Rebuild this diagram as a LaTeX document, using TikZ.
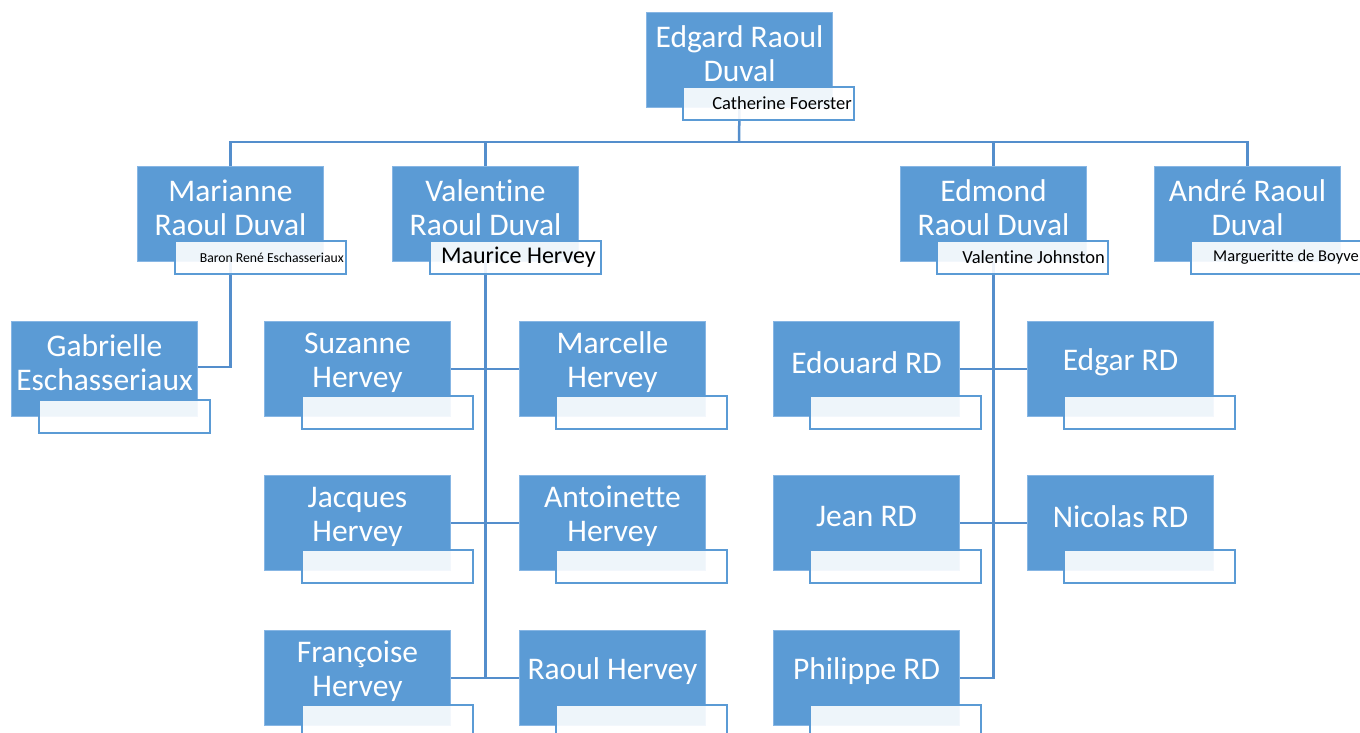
\documentclass[tikz,border=0pt]{standalone}
\usepackage{fontspec}
\setmainfont{Carlito}[Ligatures={NoCommon,NoContextual,NoRare},RawFeature={-liga;-clig;-dlig}]
\usetikzlibrary{backgrounds}
\definecolor{mainblue}{RGB}{91,155,213}
\definecolor{mainedge}{RGB}{135,182,228}
\definecolor{subedge}{RGB}{91,155,213}
\definecolor{linkblue}{RGB}{84,142,204}
\tikzset{
  mainbox/.style={rectangle, draw=mainedge, fill=mainblue, line width=1pt,
    minimum width=186pt, minimum height=95pt, inner sep=0pt, anchor=north west},
  maintext/.style={text=white, align=center, inner sep=0pt,
    font=\fontsize{31.5}{34}\selectfont},
  subbox/.style={rectangle, draw=subedge, line width=2pt, fill=white, fill opacity=0.9,
    minimum width=171pt, minimum height=33pt, inner sep=0pt, anchor=north west},
  subtext/.style={text=black, anchor=east, inner sep=0pt},
  link/.style={draw=linkblue, line width=2.5pt}
}
% name, x, y, text, sub dx, sub dy
\newcommand\pbox[6]{%
  \node[mainbox] (#1) at (#2,#3) {};
  \node[maintext] (#1-t) at ([yshift=6.5pt]#1.center) {#4};
  \node[subbox] (#1-s) at ([xshift=#5pt,yshift=-#6pt]#1.north west) {};
}
\newcommand\psub[4]{%
  \node[subtext, font=\fontsize{#2}{#2}\selectfont] (#1-st) at ([xshift=-#3pt]#1-s.east) {#4};
}
\begin{document}
\begin{tikzpicture}[x=1pt,y=-1pt]
\useasboundingbox (0,0) rectangle (1360,733);
\begin{scope}[on background layer]
  \fill[white] (0,0) rectangle (1360,733);
\end{scope}
% generation 1
\pbox{edg}{646}{12}{Edgard Raoul\\Duval}{36}{74}
\psub{edg}{18.5}{3}{Catherine Foerster}
% generation 2
\pbox{mari}{137}{166}{Marianne\\Raoul Duval}{37}{74}
\psub{mari}{13.7}{3}{Baron René Eschasseriaux}
\pbox{vale}{392}{166}{Valentine\\Raoul Duval}{37}{74}
\psub{vale}{24}{6}{Maurice Hervey}
\pbox{edmo}{900}{166}{Edmond\\Raoul Duval}{36}{74}
\psub{edmo}{18.5}{4}{Valentine Johnston}
\pbox{andr}{1154}{166}{André Raoul\\Duval}{36}{74}
\psub{andr}{16.5}{4}{Margueritte de Boyve}
% generation 3
\pbox{gabr}{11}{321}{Gabrielle\\Eschasseriaux}{27}{78}
\pbox{suza}{264}{321}{Suzanne\\Hervey}{37}{74}
\pbox{marc}{519}{321}{Marcelle\\Hervey}{36}{74}
\pbox{jacq}{264}{475}{Jacques\\Hervey}{37}{74}
\pbox{anto}{519}{475}{Antoinette\\Hervey}{36}{74}
\pbox{fran}{264}{630}{Françoise\\Hervey}{37}{74}
\pbox{raou}{519}{630}{Raoul Hervey}{36}{74}
\pbox{edou}{773}{321}{Edouard RD}{36}{74}
\pbox{edga}{1027}{321}{Edgar RD}{36}{74}
\pbox{jean}{773}{475}{Jean RD}{36}{74}
\pbox{nico}{1027}{475}{Nicolas RD}{36}{74}
\pbox{phil}{773}{630}{Philippe RD}{36}{74}
% connectors
\begin{scope}[on background layer]
  \coordinate (bus) at (739,142);
  \draw[link] (edg.south) -- (bus);
  \draw[link] (mari.north) |- (bus) -| (andr.north);
  \draw[link] (vale.north) -- (vale.north |- bus);
  \draw[link] (edmo.north) -- (edmo.north |- bus);
  \draw[link] (mari.south) |- ([yshift=2pt]gabr.east);
  \draw[link] (vale.south) -- (vale.south |- raou.west);
  \draw[link] (suza.east) -- (marc.west);
  \draw[link] (jacq.east) -- (anto.west);
  \draw[link] (fran.east) -- (raou.west);
  \draw[link] (edmo.south) |- (phil.east);
  \draw[link] (edou.east) -- (edga.west);
  \draw[link] (jean.east) -- (nico.west);
\end{scope}
\end{tikzpicture}
\end{document}
